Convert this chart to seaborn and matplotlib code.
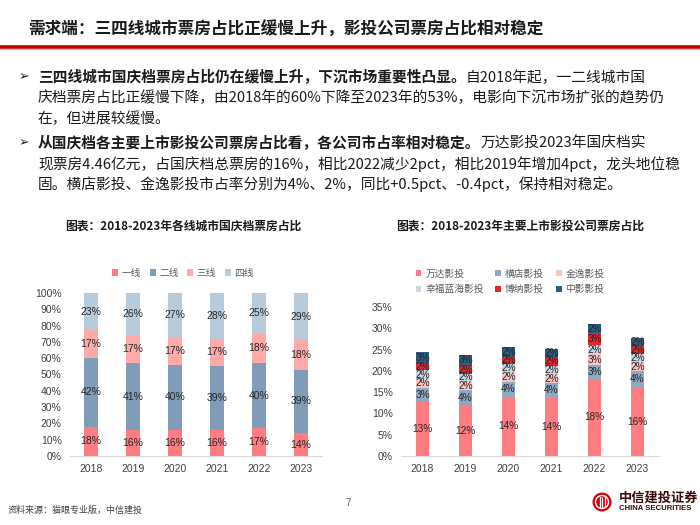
import numpy as np
import pandas as pd
import matplotlib
matplotlib.use("Agg")
import matplotlib.pyplot as plt
import seaborn as sns
from matplotlib.patches import Rectangle, Circle
from matplotlib.ticker import FuncFormatter

# ---------------- data ----------------
years = ["2018", "2019", "2020", "2021", "2022", "2023"]

tier_names = ["一线", "二线", "三线", "四线"]
tier1 = [18, 16, 16, 16, 17, 14]
tier2 = [42, 41, 40, 39, 40, 39]
tier3 = [17, 17, 17, 17, 18, 18]
tier4 = [23, 26, 27, 28, 25, 29]

company_names = ["万达影投", "横店影投", "金逸影投", "幸福蓝海影投", "博纳影投", "中影影投"]
wanda = [12.7, 11.8, 13.9, 13.6, 18.1, 16.1]
hengdian = [3.3, 3.6, 3.6, 3.6, 3.2, 3.8]
jinyi = [2.1, 2.2, 2.1, 2.0, 2.6, 2.1]
xingfu = [2.0, 1.7, 2.0, 2.0, 2.2, 2.0]
bona = [1.6, 1.9, 1.7, 2.0, 2.7, 1.8]
zhongying = [2.8, 2.6, 2.2, 1.9, 2.1, 2.0]

left_ticks = [0, 10, 20, 30, 40, 50, 60, 70, 80, 90, 100]
right_ticks = [0, 5, 10, 15, 20, 25, 30, 35]

title_text = "需求端：三四线城市票房占比正缓慢上升，影投公司票房占比相对稳定"
chart1_title = "图表：2018-2023年各线城市国庆档票房占比"
chart2_title = "图表：2018-2023年主要上市影投公司票房占比"
bullet1 = [("三四线城市国庆档票房占比仍在缓慢上升，下沉市场重要性凸显。", "自2018年起，一二线城市国"),
           ("", "庆档票房占比正缓慢下降，由2018年的60%下降至2023年的53%，电影向下沉市场扩张的趋势仍"),
           ("", "在，但进展较缓慢。")]
bullet2 = [("从国庆档各主要上市影投公司票房占比看，各公司市占率相对稳定。", "万达影投2023年国庆档实"),
           ("", "现票房4.46亿元，占国庆档总票房的16%，相比2022减少2pct，相比2019年增加4pct，龙头地位稳"),
           ("", "固。横店影投、金逸影投市占率分别为4%、2%，同比+0.5pct、-0.4pct，保持相对稳定。")]
source_text = "资料来源：猫眼专业版，中信建投"

# ---------------- style ----------------
sns.set_style("white")
plt.rcParams["font.family"] = ["Noto Sans CJK SC", "DejaVu Sans"]
NUM_FONT = ["Liberation Sans", "DejaVu Sans"]

left_colors = ["#FF7C80", "#7F9DB9", "#FFA9A9", "#B8CBDB"]
right_colors = ["#FF7C80", "#8EA9C1", "#F9C4C4", "#C9D6E3", "#E0282E", "#2E5B82"]

fig = plt.figure(figsize=(7.0, 5.25), dpi=100)
fig.patch.set_facecolor("white")

W, H = 700.0, 525.0


def fig_rect(x0, y_top, x1, y_bot):
    return [x0 / W, 1 - y_bot / H, (x1 - x0) / W, (y_bot - y_top) / H]


def stacked(ax, series, colors, ylim, ticks, lab_fs):
    n = len(series)
    cums = np.cumsum(np.array(series, dtype=float), axis=0)
    for i in reversed(range(n)):
        df = pd.DataFrame({"year": years, "value": cums[i]})
        sns.barplot(data=df, x="year", y="value", color=colors[i], width=0.31,
                    saturation=1, errorbar=None, linewidth=0, ax=ax, order=years)
    for i in range(n):
        for j in range(len(years)):
            v = series[i][j]
            ax.text(j, cums[i][j] - v / 2, f"{v:.0f}%", ha="center", va="center",
                    fontsize=lab_fs, color="#262626", family=NUM_FONT)
    ax.set_ylim(*ylim)
    ax.set_xlim(-0.5, len(years) - 0.5)
    ax.set_yticks(ticks)
    ax.yaxis.set_major_formatter(FuncFormatter(lambda v, p: f"{v:.0f}%"))
    ax.set_xlabel("")
    ax.set_ylabel("")
    for s in ["top", "right", "left"]:
        ax.spines[s].set_visible(False)
    ax.spines["bottom"].set_color("#D9D9D9")
    ax.spines["bottom"].set_linewidth(0.8)
    ax.tick_params(axis="both", length=0, labelsize=7.5, colors="#404040")
    ax.tick_params(axis="y", pad=6)
    ax.tick_params(axis="x", pad=6)
    for lab in ax.get_xticklabels() + ax.get_yticklabels():
        lab.set_family(NUM_FONT)
    handles = [Rectangle((0, 0), 1, 1, facecolor=c, edgecolor="none") for c in colors]
    return handles


# left chart
ax1 = fig.add_axes(fig_rect(70, 293, 322, 456))
h1 = stacked(ax1, [tier1, tier2, tier3, tier4], left_colors, (0, 100), left_ticks, 7.5)
ax1.legend(h1, tier_names, loc="center", bbox_to_anchor=(183 / W, 1 - 273 / H),
           bbox_transform=fig.transFigure, ncol=4, frameon=False, fontsize=7,
           handlelength=0.6, handleheight=0.6, handletextpad=0.35, columnspacing=0.9,
           labelcolor="#595959")

# right chart
ax2 = fig.add_axes(fig_rect(401, 307, 659, 456))
h2 = stacked(ax2, [wanda, hengdian, jinyi, xingfu, bona, zhongying],
             right_colors, (0, 35), right_ticks, 7.2)
order = [0, 3, 1, 4, 2, 5]  # row-wise layout: 3 per row
ax2.legend([h2[k] for k in order], [company_names[k] for k in order], loc="center",
           bbox_to_anchor=(510 / W, 1 - 281.5 / H),
           bbox_transform=fig.transFigure, ncol=3, frameon=False, fontsize=7,
           handlelength=0.6, handleheight=0.6, handletextpad=0.4, columnspacing=1.2,
           labelcolor="#595959", labelspacing=0.55)

# ---------------- overlay texts ----------------
ov = fig.add_axes([0, 0, 1, 1])
ov.set_xlim(0, W)
ov.set_ylim(H, 0)
ov.axis("off")
ov.patch.set_visible(False)

ov.text(28, 30, title_text, fontsize=12, fontweight="bold", color="#1a1a1a",
        ha="left", va="center")
ov.plot([0, W], [47, 47], color="#C00000", lw=2.6, solid_capstyle="butt")
ov.plot([0, W], [49.3, 49.3], color="#E2B0B0", lw=0.8, solid_capstyle="butt")

FS = 10.6


def bullet_block(lines, y0, dy=20.8):
    ov.text(24, y0, "➢", fontsize=9, family=["DejaVu Sans"], ha="center", va="center",
            color="#1a1a1a")
    for k, (b, r) in enumerate(lines):
        y = y0 + k * dy
        if b:
            t = ov.text(38, y, b, fontsize=FS, fontweight="bold", color="#1a1a1a",
                        ha="left", va="center")
            ov.annotate(r, xy=(1, 0), xycoords=t, ha="left", va="bottom",
                        fontsize=FS, color="#1a1a1a")
        else:
            ov.text(38, y, r, fontsize=FS, color="#1a1a1a", ha="left", va="center")


bullet_block(bullet1, 77)
bullet_block(bullet2, 143)

ov.text(183, 226, chart1_title, fontsize=8.5, fontweight="bold", ha="center",
        va="center", color="#1a1a1a")
ov.text(520, 226, chart2_title, fontsize=8.5, fontweight="bold", ha="center",
        va="center", color="#1a1a1a")

ov.text(8, 510, source_text, fontsize=6.5, color="#404040", ha="left", va="center")
ov.text(348, 503, "7", fontsize=7, color="#595959", ha="center", va="center",
        family=NUM_FONT)

# logo
ov.add_patch(Circle((602, 502), 9.5, facecolor="#D7000F", edgecolor="none"))
ov.add_patch(Circle((602, 502), 6.5, facecolor="none", edgecolor="white", lw=1.0))
for dx in (-2.5, 0, 2.5):
    ov.plot([602 + dx, 602 + dx], [497, 507], color="white", lw=0.9)
ov.text(619, 498, "中信建投证券", fontsize=9.5, fontweight="bold", color="#3a0a0a",
        ha="left", va="center")
ov.text(619, 509, "CHINA SECURITIES", fontsize=5.6, fontweight="bold", color="#3a0a0a",
        ha="left", va="center", family=NUM_FONT)

fig.savefig("out.png", dpi=100, facecolor="white")
